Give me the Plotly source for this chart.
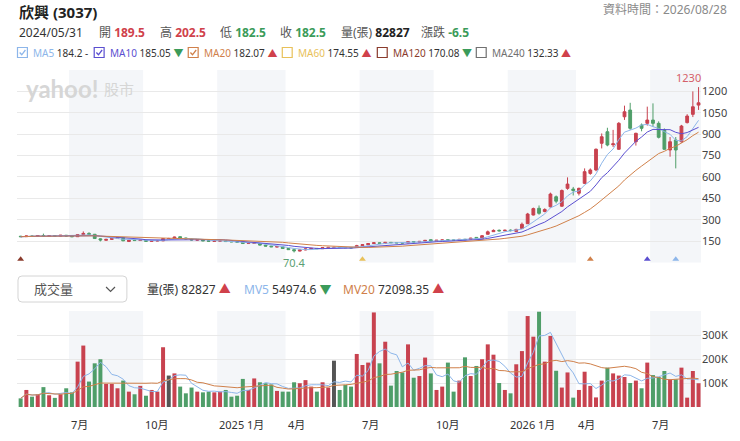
import pandas as pd
import plotly.graph_objects as go

# weekly bars, TW market closed the whole Lunar New Year week in 2025 and 2026
dates = pd.date_range("2024-05-03", "2026-08-28", freq="W-FRI")
dates = dates[~dates.isin(pd.to_datetime(["2025-01-31", "2026-02-20"]))]

opens = [184, 181, 186, 182.5, 189.5, 183, 188, 185, 191, 186,
         181, 196, 204, 198, 166, 156, 162, 168, 175, 147,
         157, 154, 155, 149, 151, 152, 168, 170, 181, 172,
         166, 157, 159, 152, 148, 150, 151, 147, 145, 144,
         133, 134, 133, 122, 115, 108, 110, 98, 90, 80,
         88, 95, 99, 97, 104, 106, 106, 105, 104, 108,
         118, 124, 133, 138, 134, 141, 139, 138, 137, 146,
         144, 148, 160, 150, 156, 159, 157, 156, 163, 163,
         176, 166, 198, 216, 226, 222, 227, 218, 238, 272,
         333, 380, 358, 391, 461, 395, 520, 515, 486, 555,
         625, 649, 836, 917, 826, 794, 1022, 1069, 847, 964,
         976, 999, 976, 929, 789, 859, 847, 981, 1039, 1104]
highs = [187, 188, 189, 191, 202.5, 190, 191, 193, 192, 188,
         198, 218, 212, 200, 170, 166, 171, 177, 177, 158,
         160, 159, 156, 153, 155, 170, 173, 181, 183, 174,
         167, 162, 160, 154, 152, 153, 152, 149, 147, 145,
         137, 140, 134, 124, 117, 114, 111, 100, 92, 90,
         97, 101, 100, 105, 108, 109, 108, 106, 106, 124,
         128, 136, 142, 140, 144, 143, 141, 140, 150, 148,
         151, 158, 162, 158, 161, 160, 159, 165, 165, 173,
         178, 192, 224, 232, 231, 230, 232, 236, 280, 348,
         385, 400, 380, 490, 470, 512, 597, 530, 525, 660,
         660, 800, 905, 945, 930, 985, 1100, 1120, 910, 975,
         1093, 1116, 990, 940, 880, 880, 965, 1040, 1200, 1230]
lows = [179, 180, 181, 181, 182.5, 181, 183, 184, 184, 178,
        180, 194, 196, 166, 148, 153, 160, 166, 150, 145,
        152, 151, 146, 147, 149, 150, 164, 168, 169, 164,
        155, 155, 150, 147, 146, 147, 145, 143, 141, 130,
        130, 132, 118, 113, 108, 106, 96, 88, 70.4, 78,
        86, 93, 95, 96, 102, 103, 103, 102, 101, 107,
        116, 123, 130, 131, 133, 137, 136, 135, 136, 141,
        143, 147, 145, 149, 154, 155, 154, 155, 158, 162,
        166, 164, 196, 214, 218, 220, 218, 216, 236, 270,
        330, 335, 352, 385, 415, 390, 510, 470, 470, 550,
        615, 640, 800, 815, 810, 790, 1000, 930, 820, 920,
        960, 952, 870, 790, 742, 660, 840, 975, 1020, 1070]
closes = [181, 186, 182.5, 189, 182.5, 188, 185, 191, 186, 181,
          196, 204, 198, 168, 158, 162, 168, 173, 152, 157,
          154, 157, 149, 151, 153, 168, 168, 178, 172, 166,
          158, 159, 152, 149, 150, 151, 147, 145, 143, 133,
          135, 138, 122, 115, 110, 112, 98, 90, 82, 88,
          95, 99, 97, 104, 106, 106, 105, 104, 103, 118,
          125, 133, 138, 134, 141, 139, 138, 137, 146, 144,
          148, 155, 150, 156, 158, 157, 156, 162, 160, 170,
          168, 188, 215, 225, 222, 226, 224, 232, 268, 340,
          378, 345, 372, 480, 430, 505, 550, 505, 520, 637,
          649, 794, 882, 824, 832, 976, 1057, 941, 906, 941,
          999, 976, 878, 794, 847, 789, 957, 1027, 1092, 1120]
volumes = [36000, 71000, 43000, 53000, 82827, 49000, 38000, 53000, 78000, 61000,
           189000, 256000, 106000, 182000, 199000, 96000, 96000, 78000, 110000, 64000,
           53000, 88000, 47000, 71000, 64000, 249000, 131000, 140000, 85000, 57000,
           81000, 64000, 61000, 64000, 61000, 64000, 71000, 43000, 47000, 117000,
           71000, 119000, 103000, 99000, 94000, 67000, 64000, 64000, 103000, 99000,
           112000, 85000, 64000, 103000, 81000, 193000, 71000, 92000, 85000, 221000,
           175000, 185000, 394000, 182000, 272000, 89000, 150000, 144000, 261000, 122000,
           129000, 206000, 140000, 71000, 85000, 185000, 64000, 110000, 207000, 129000,
           171000, 199000, 261000, 218000, 100000, 71000, 57000, 178000, 233000, 379000,
           293000, 397000, 189000, 296000, 151000, 81000, 144000, 39000, 71000, 147000,
           88000, 40000, 110000, 164000, 140000, 131000, 125000, 100000, 110000, 78000,
           185000, 133000, 125000, 150000, 115000, 115000, 164000, 39000, 150000, 99000]

# header figures (selected bar 2024/05/31)
sel = 4
ma_labels = ["MA5", "MA10", "MA20", "MA60", "MA120", "MA240"]
ma_values = ["184.2", "185.05", "182.07", "174.55", "170.08", "132.33"]
ma_trend = ["-", "▼", "▲", "▲", "▼", "▲"]
mv_values = ["54974.6", "72098.35"]
price_ticks = [0, 150, 300, 450, 600, 750, 900, 1050, 1200, 1350]
vol_ticks = [0, 100000, 200000, 300000, 400000]

RED = "#c8424f"
GREEN = "#4f9e69"
TXT_RED = "#d0414b"
TXT_GREEN = "#3b9b5a"
MA_COLORS = {"MA5": "#8db6ea", "MA10": "#5b4fd0", "MA20": "#d0804a",
             "MA60": "#e8c15a", "MA120": "#8a3b2c", "MA240": "#707070"}
FONT = "Noto Sans, Noto Sans CJK TC, sans-serif"

df = pd.DataFrame({"open": opens, "high": highs, "low": lows,
                   "close": closes, "volume": volumes})
xs = list(range(len(df)))

W, H = 740, 441
ML, MR, MT, MB = 17, 32, 70, 34
PW, PH = W - ML - MR, H - MT - MB


def px_x(x):
    return (x - ML) / PW


def px_y(y):
    return (H - MB - y) / PH


fig = go.Figure()

fig.add_trace(go.Candlestick(
    x=xs, open=df["open"], high=df["high"], low=df["low"], close=df["close"],
    increasing=dict(line=dict(color=RED, width=1), fillcolor=RED),
    decreasing=dict(line=dict(color=GREEN, width=1), fillcolor=GREEN),
    whiskerwidth=0, showlegend=False, xaxis="x", yaxis="y"))

for n in (5, 10, 20):
    fig.add_trace(go.Scatter(
        x=xs, y=df["close"].rolling(n, min_periods=1).mean(), mode="lines",
        line=dict(color=MA_COLORS[f"MA{n}"], width=1), showlegend=False,
        hoverinfo="skip", xaxis="x", yaxis="y"))

# markers for where each MA window starts
periods = [5, 10, 20, 60, 120]
fig.add_trace(go.Scatter(
    x=[len(df) - p for p in periods], y=[22] * len(periods), mode="markers",
    marker=dict(symbol="triangle-up", size=6,
                color=[MA_COLORS[f"MA{p}"] for p in periods]),
    showlegend=False, hoverinfo="skip", xaxis="x", yaxis="y"))

bar_colors = [RED if c > o else GREEN if c < o else "#555555"
              for o, c in zip(df["open"], df["close"])]
fig.add_trace(go.Bar(x=xs, y=df["volume"], marker=dict(color=bar_colors, line=dict(width=0)),
                     showlegend=False, xaxis="x", yaxis="y2"))
fig.add_trace(go.Scatter(
    x=xs, y=df["volume"].rolling(5, min_periods=1).mean(), mode="lines",
    line=dict(color=MA_COLORS["MA5"], width=1), showlegend=False,
    hoverinfo="skip", xaxis="x", yaxis="y2"))
fig.add_trace(go.Scatter(
    x=xs, y=df["volume"].rolling(20, min_periods=1).mean(), mode="lines",
    line=dict(color=MA_COLORS["MA20"], width=1), showlegend=False,
    hoverinfo="skip", xaxis="x", yaxis="y2"))

x_lo, x_hi = -0.64, len(df) - 0.57

# quarter boundaries, shading for Jan-Mar and Jul-Sep
months = list(dates.month)
qstart = [i for i in range(len(dates))
          if months[i] in (1, 4, 7, 10) and i > 0 and months[i - 1] != months[i]]
shapes = []
for k, i in enumerate(qstart):
    if months[i] in (1, 7):
        x1 = qstart[k + 1] - 0.5 if k + 1 < len(qstart) else x_hi
        for yr in ("y domain", "y2 domain"):
            shapes.append(dict(type="rect", xref="x", yref=yr, x0=i - 0.5, x1=x1,
                               y0=0, y1=1, fillcolor="#f4f6f9", line=dict(width=0),
                               layer="below"))

annotations = []


def txt(x, y, text, size=12, color="#333", anchor="left", family=FONT):
    annotations.append(dict(xref="paper", yref="paper", x=px_x(x), y=px_y(y),
                            text=text, showarrow=False, xanchor=anchor,
                            yanchor="middle", font=dict(family=family, size=size, color=color)))


def span(text, color):
    return f"<span style='color:{color}'>{text}</span>"


for i in qstart:
    label = f"{dates[i].year} 1月" if months[i] == 1 else f"{months[i]}月"
    annotations.append(dict(xref="x", yref="paper", x=i - 0.5, y=px_y(424), text=label,
                            showarrow=False, xanchor="left", yanchor="middle",
                            font=dict(family=FONT, size=11, color="#333")))

# header
txt(17, 12, "<b>欣興 (3037)</b>", size=15, color="#222")
txt(736, 9, "資料時間：2026/08/28", size=12, color="#8a8a8a", anchor="right")

chg = df["close"][sel] - df["close"][sel - 1]
up_col = TXT_RED if chg > 0 else TXT_GREEN
txt(17, 32, dates[sel].strftime("%Y/%m/%d"), size=12, color="#333")
row2 = [(98, "開", df["open"][sel], TXT_RED), (159, "高", df["high"][sel], TXT_RED),
        (220, "低", df["low"][sel], TXT_GREEN), (281, "收", df["close"][sel], TXT_GREEN)]
for x, lab, val, col in row2:
    txt(x, 32, f"{lab} " + span(f"<b>{val:g}</b>", col), size=12, color="#555")
txt(342, 32, "量(張) " + span(f"<b>{df['volume'][sel]}</b>", "#222"), size=12, color="#555")
txt(423, 32, "漲跌 " + span(f"<b>{chg:g}</b>", up_col), size=12, color="#555")

box_x = [17.5, 95, 190, 285, 381, 481]
checked = [True, True, True, False, False, False]
for bx, lab, val, tr, on in zip(box_x, ma_labels, ma_values, ma_trend, checked):
    col = MA_COLORS[lab]
    shapes.append(dict(type="rect", xref="paper", yref="paper",
                       x0=px_x(bx), x1=px_x(bx + 10), y0=px_y(57.5), y1=px_y(47.5),
                       line=dict(color=col, width=1.2), fillcolor="white"))
    if on:
        shapes.append(dict(type="path", xref="paper", yref="paper",
                           path=f"M {px_x(bx + 2.2)},{px_y(52.5)} L {px_x(bx + 4.3)},{px_y(54.8)} "
                                f"L {px_x(bx + 8)},{px_y(50)}",
                           line=dict(color=col, width=1.3)))
    tcol = TXT_RED if tr == "▲" else TXT_GREEN if tr == "▼" else "#333"
    txt(bx + 14, 52.5, span(lab, col) + f" {val} " + span(tr, tcol), size=10, color="#333")

# volume header: dropdown + values
r = 4
x0, x1, y0, y1 = 18, 128, 276, 302
shapes.append(dict(type="path", xref="paper", yref="paper",
                   path=(f"M {px_x(x0 + r)},{px_y(y0)} L {px_x(x1 - r)},{px_y(y0)} "
                         f"Q {px_x(x1)},{px_y(y0)} {px_x(x1)},{px_y(y0 + r)} "
                         f"L {px_x(x1)},{px_y(y1 - r)} Q {px_x(x1)},{px_y(y1)} {px_x(x1 - r)},{px_y(y1)} "
                         f"L {px_x(x0 + r)},{px_y(y1)} Q {px_x(x0)},{px_y(y1)} {px_x(x0)},{px_y(y1 - r)} "
                         f"L {px_x(x0)},{px_y(y0 + r)} Q {px_x(x0)},{px_y(y0)} {px_x(x0 + r)},{px_y(y0)} Z"),
                   line=dict(color="#d4d4d4", width=1), fillcolor="white"))
shapes.append(dict(type="path", xref="paper", yref="paper",
                   path=f"M {px_x(107)},{px_y(287)} L {px_x(111.5)},{px_y(291.5)} L {px_x(116)},{px_y(287)}",
                   line=dict(color="#555", width=1.2)))
txt(32, 289, "成交量", size=13, color="#555")
txt(146, 289, f"量(張) {df['volume'][sel]} " + span("▲", TXT_RED), size=12, color="#333")
txt(244, 289, span("MV5", MA_COLORS["MA5"]) + f" {mv_values[0]} " + span("▼", TXT_GREEN),
    size=12, color="#333")
txt(344, 289, span("MV20", MA_COLORS["MA20"]) + f" {mv_values[1]} " + span("▲", TXT_RED),
    size=12, color="#333")

# watermark
txt(24, 89, "<b>yahoo!</b>", size=24, color="#d6d6d6", family="Lato, Noto Sans, sans-serif")
txt(103, 89, "股市", size=15, color="#d6d6d6")

# extreme labels
imax = int(df["high"].idxmax())
imin = int(df["low"].idxmin())
annotations.append(dict(xref="x", yref="y", x=imax, y=df["high"][imax], text=f"{df['high'][imax]:g}",
                        showarrow=False, xanchor="right", yanchor="bottom", xshift=4, yshift=0,
                        font=dict(family=FONT, size=11, color="#d4606a")))
annotations.append(dict(xref="x", yref="y", x=imin, y=df["low"][imin], text=f"{df['low'][imin]:g}",
                        showarrow=False, xanchor="center", yanchor="top", yshift=-1,
                        font=dict(family=FONT, size=11, color="#5c9f73")))

fig.update_layout(
    width=W, height=H, margin=dict(l=ML, r=MR, t=MT, b=MB),
    paper_bgcolor="white", plot_bgcolor="white",
    font=dict(family=FONT, size=11, color="#444"),
    bargap=0.3, showlegend=False, hovermode=False,
    xaxis=dict(range=[x_lo, x_hi], showgrid=False, showticklabels=False, zeroline=False,
               showline=False, rangeslider=dict(visible=False), anchor="y2", fixedrange=True),
    yaxis=dict(domain=[px_y(262.5), 1], range=[0, 1350], side="right", anchor="x",
               tickvals=price_ticks,
               ticktext=["" if v in (price_ticks[0], price_ticks[-1]) else str(v) for v in price_ticks],
               gridcolor="#e9e9e9", zeroline=False, ticks="", fixedrange=True,
               tickfont=dict(size=11, color="#444")),
    yaxis2=dict(domain=[0, px_y(311)], range=[0, 400000], side="right", anchor="x",
                tickvals=vol_ticks,
                ticktext=["" if v in (vol_ticks[0], vol_ticks[-1]) else f"{v // 1000}K" for v in vol_ticks],
                gridcolor="#e9e9e9", zeroline=False, ticks="", fixedrange=True,
                tickfont=dict(size=11, color="#444")),
    shapes=shapes, annotations=annotations,
)

fig.write_html("out.html", config={"displayModeBar": False},
               post_script="document.body.style.margin='0';")
